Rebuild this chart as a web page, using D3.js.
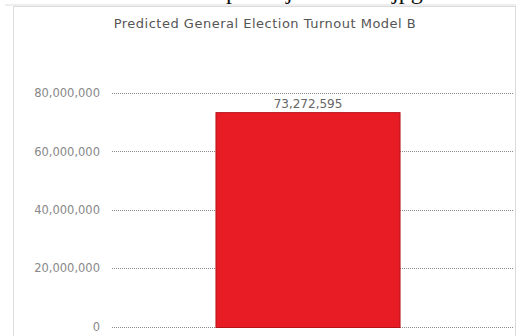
<!DOCTYPE html>
<html lang="en">
<head>
<meta charset="utf-8">
<title>Predicted General Election Turnout Model B</title>
<script src="https://d3js.org/d3.v7.min.js"></script>
<style>
  body { margin: 0; background: #fff; }
  svg text { font-family: "DejaVu Sans", Verdana, sans-serif; }
</style>
</head>
<body>
<div id="chart"></div>
<script>
// data
var categories = ["Model B"];
var turnout = [73272595];
var yTicks = [0, 20000000, 40000000, 60000000, 80000000];

var W = 521, H = 336;
var margin = {top: 93, left: 112, right: 7, bottom: 9.5};
var plotW = W - margin.left - margin.right,
    plotH = 233.5;

var svg = d3.select("#chart").append("svg")
    .attr("width", W)
    .attr("height", H);

// panel frame
svg.append("rect")
    .attr("x", 13.5).attr("y", 6.5)
    .attr("width", 502).attr("height", 340)
    .attr("fill", "#fff")
    .attr("stroke", "#dcdcdc");
svg.append("line")
    .attr("x1", 5).attr("x2", 516).attr("y1", 5).attr("y2", 5)
    .attr("stroke", "#eeeeee").attr("stroke-width", 2);

// cut-off caption above the panel (only the descenders show)
var cap = svg.append("text")
    .attr("y", -1)
    .style("font-family", "'Liberation Serif', serif")
    .style("font-size", "24px")
    .attr("fill", "#111");
cap.append("tspan").attr("x", 226).text("p");
cap.append("tspan").attr("x", 286).text("j");
cap.append("tspan").attr("x", 392).text("jpg");

svg.append("text")
    .attr("x", 265).attr("y", 28)
    .attr("text-anchor", "middle")
    .style("font-size", "13px")
    .style("letter-spacing", "0.5px")
    .attr("fill", "#555")
    .text("Predicted General Election Turnout Model B");

var g = svg.append("g")
    .attr("transform", "translate(" + margin.left + "," + margin.top + ")");

var y = d3.scaleLinear()
    .domain([0, 80000000])
    .range([plotH, 0]);

var x = d3.scaleBand()
    .domain(categories)
    .range([-6, plotW - 4])
    .paddingInner(0.374)
    .paddingOuter(0.374);

// dotted gridlines
g.selectAll(".grid")
  .data(yTicks)
  .enter().append("line")
    .attr("class", "grid")
    .attr("x1", 0).attr("x2", plotW)
    .attr("y1", function(d) { return Math.round(y(d)) + 0.5; })
    .attr("y2", function(d) { return Math.round(y(d)) + 0.5; })
    .attr("stroke", "#8a8a8a")
    .attr("stroke-dasharray", "1,1");

// y axis labels
var yAxis = d3.axisLeft(y)
    .tickValues(yTicks)
    .tickSize(0)
    .tickPadding(12)
    .tickFormat(d3.format(",d"));
var ax = g.append("g").call(yAxis);
ax.select(".domain").remove();
ax.selectAll("text")
    .style("font-size", "11.5px")
    .style("font-family", "'DejaVu Sans', Verdana, sans-serif")
    .attr("fill", "#888");

// bar
g.selectAll(".bar")
  .data(turnout)
  .enter().append("rect")
    .attr("class", "bar")
    .attr("x", function(d, i) { return x(categories[i]); })
    .attr("y", function(d) { return y(d); })
    .attr("width", x.bandwidth())
    .attr("height", function(d) { return plotH - y(d) + 1; })
    .attr("fill", "#e81c24")
    .attr("stroke", "#b5141a")
    .attr("stroke-width", 1);

// value label
g.selectAll(".val")
  .data(turnout)
  .enter().append("text")
    .attr("class", "val")
    .attr("x", function(d, i) { return x(categories[i]) + x.bandwidth() / 2; })
    .attr("y", function(d) { return y(d) - 5; })
    .attr("text-anchor", "middle")
    .style("font-size", "12px")
    .attr("fill", "#666")
    .text(d3.format(",d"));
</script>
</body>
</html>
